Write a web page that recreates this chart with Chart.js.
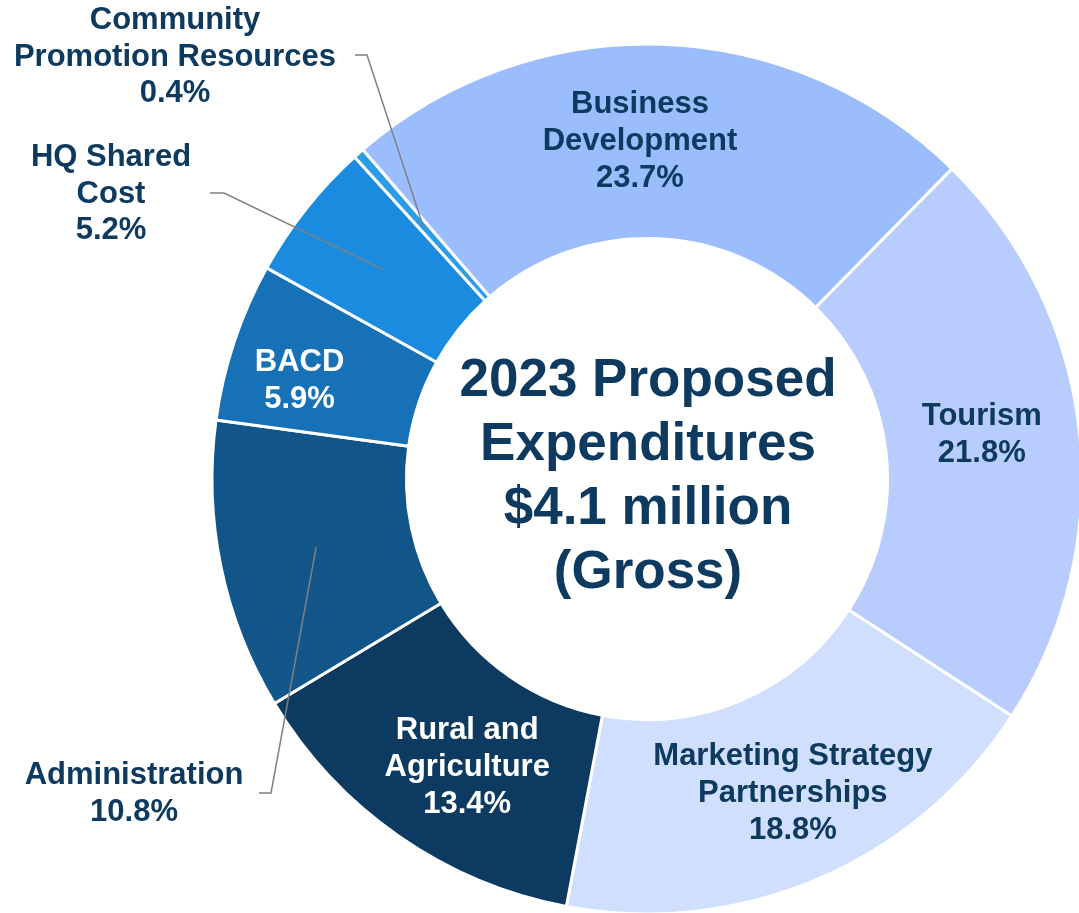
<!DOCTYPE html>
<html>
<head>
<meta charset="utf-8">
<title>2023 Proposed Expenditures</title>
<script src="https://cdn.jsdelivr.net/npm/chart.js@4.4.1/dist/chart.umd.min.js"></script>
<style>
  html, body { margin: 0; padding: 0; background: #ffffff; }
  #wrap { width: 1079px; height: 913px; position: relative; }
</style>
</head>
<body>
<div id="wrap"><canvas id="expChart" width="1079" height="913"></canvas></div>
<script>
// data
const categories = ['Business Development', 'Tourism', 'Marketing Strategy Partnerships',
  'Rural and Agriculture', 'Administration', 'BACD', 'HQ Shared Cost', 'Community Promotion Resources'];
const labelLines = [
  ['Business', 'Development'],
  ['Tourism'],
  ['Marketing Strategy', 'Partnerships'],
  ['Rural and', 'Agriculture'],
  ['Administration'],
  ['BACD'],
  ['HQ Shared', 'Cost'],
  ['Community', 'Promotion Resources']
];
const shares = [23.7, 21.8, 18.8, 13.4, 10.8, 5.9, 5.2, 0.4];
const centerTitle = ['2023 Proposed', 'Expenditures', '$4.1 million', '(Gross)'];

// styles
const sliceColors = ['#9bbdfd', '#b8cdfd', '#d0dffd', '#0d3a60', '#125689', '#1771b7', '#1b8be0', '#2b9ce6'];
const navy = '#0e3a60';
const labelFont = 'bold 31px "Liberation Sans", Arial, sans-serif';
const centerFont = 'bold 53px "Liberation Sans", Arial, sans-serif';

// inside labels: offset from the slice centre; outside labels: text spot + elbow of the leader
const labelLayout = [
  { mode: 'in', dx: -18, dy: 0, color: navy },
  { mode: 'in', dx: -1, dy: -7, color: navy },
  { mode: 'in', dx: 13, dy: 4, color: navy },
  { mode: 'in', dx: 13, dy: 11, color: '#ffffff' },
  { mode: 'out', x: 134, y: 794, elbow: [271, 793], end: [259, 793], color: navy },
  { mode: 'in', dx: -27, dy: 9, color: '#ffffff' },
  { mode: 'out', x: 111, y: 194, elbow: [224, 193], end: [210, 193], color: navy },
  { mode: 'out', x: 175, y: 57, elbow: [367, 55], end: [355, 55], color: navy }
];

function drawLines(ctx, lines, cx, cy, step) {
  const top = cy - (lines.length - 1) * step / 2;
  lines.forEach((t, i) => ctx.fillText(t, cx, top + i * step));
}

const sliceLabels = {
  id: 'sliceLabels',
  afterDatasetsDraw(chart) {
    const ctx = chart.ctx;
    const arcs = chart.getDatasetMeta(0).data;
    ctx.save();
    ctx.textAlign = 'center';
    ctx.textBaseline = 'middle';

    // leader lines first
    ctx.strokeStyle = '#808080';
    ctx.lineWidth = 1.5;
    arcs.forEach((arc, i) => {
      const l = labelLayout[i];
      if (l.mode !== 'out') return;
      const p = arc.getCenterPoint();
      ctx.beginPath();
      ctx.moveTo(p.x, p.y);
      ctx.lineTo(l.elbow[0], l.elbow[1]);
      ctx.lineTo(l.end[0], l.end[1]);
      ctx.stroke();
    });

    ctx.font = labelFont;
    arcs.forEach((arc, i) => {
      const l = labelLayout[i];
      const lines = labelLines[i].concat([shares[i].toFixed(1) + '%']);
      ctx.fillStyle = l.color;
      if (l.mode === 'in') {
        const p = arc.getCenterPoint();
        drawLines(ctx, lines, p.x + l.dx, p.y + l.dy, 37);
      } else {
        drawLines(ctx, lines, l.x, l.y, 36.5);
      }
    });

    // centre title
    const c = arcs[0];
    ctx.font = centerFont;
    ctx.fillStyle = navy;
    drawLines(ctx, centerTitle, c.x + 1, c.y - 2, 64);
    ctx.restore();
  }
};

new Chart(document.getElementById('expChart'), {
  type: 'doughnut',
  data: {
    labels: categories,
    datasets: [{
      data: shares,
      backgroundColor: sliceColors,
      borderColor: '#ffffff',
      borderWidth: 3,
      clip: false
    }]
  },
  options: {
    responsive: false,
    devicePixelRatio: 1,
    animation: false,
    rotation: -40.8,
    radius: 435,
    cutout: '55.3%',
    layout: { padding: { left: 215, right: 0, top: 45, bottom: 0 } },
    plugins: {
      legend: { display: false },
      tooltip: { enabled: false }
    }
  },
  plugins: [sliceLabels]
});
</script>
</body>
</html>
